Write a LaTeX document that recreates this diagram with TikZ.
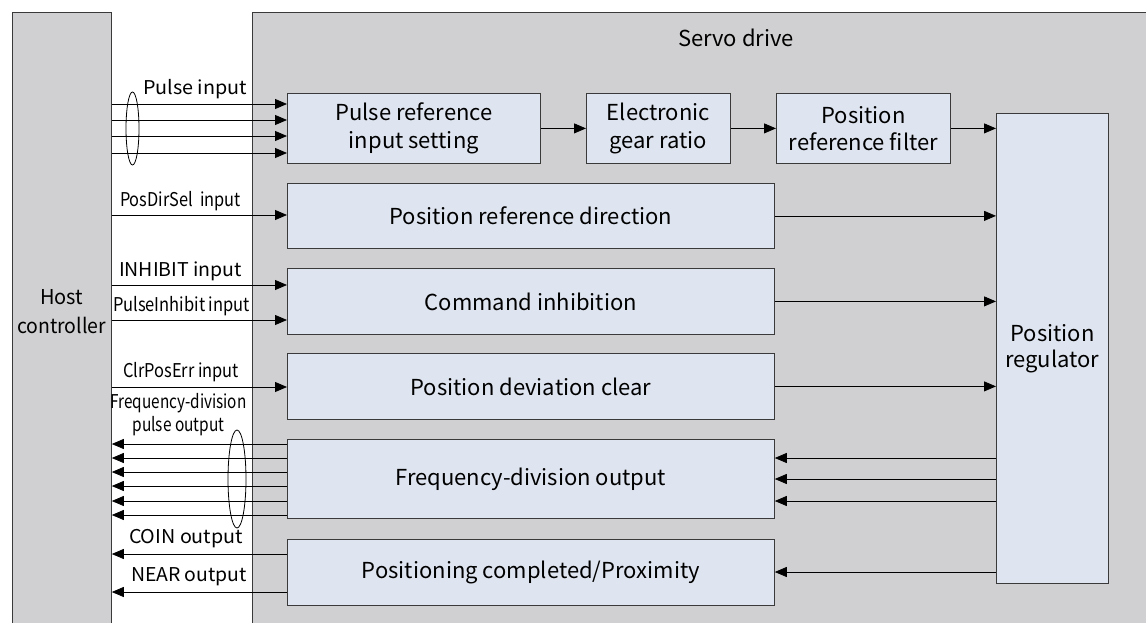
\documentclass[tikz,border=0pt]{standalone}
\usepackage{fontspec}
\setmainfont{Noto Sans CJK SC}
\usetikzlibrary{arrows.meta}
\definecolor{panel}{HTML}{D0D0D2}
\definecolor{blockfill}{HTML}{DFE5F0}
\definecolor{edge}{HTML}{3A3A3A}
% set a line of text squeezed or stretched horizontally to a given width (in pt)
\newcommand\fitwidth[2]{\setbox0\hbox{#2}\pgfmathsetmacro\fitfactor{#1/\the\wd0}\scalebox{\fitfactor}[1]{#2}}
\begin{document}
\begin{tikzpicture}[x=1pt,y=-1pt,
  block/.style={draw=edge, line width=0.8pt, fill=blockfill, inner sep=0pt,
    align=center, font=\fontsize{22}{27.5}\selectfont, anchor=north west},
  frame/.style={draw=edge, line width=0.8pt, fill=panel},
  title/.style={font=\fontsize{22}{29}\selectfont, align=center, inner sep=0pt},
  arr/.style={-{Triangle[length=12pt,width=10pt]}, line width=0.8pt},
  lbl/.style={font=\fontsize{19}{24}\selectfont, inner sep=0pt, align=center},
  bundle/.style={line width=0.8pt},
]
\clip (0,0) rectangle (1146,623);
\fill[white] (0,0) rectangle (1146,623);

% outer panels
\node[frame, inner sep=0pt, minimum width=99pt, minimum height=640pt, anchor=north west] (host) at (12,12) {};
\node[frame, inner sep=0pt, minimum width=910pt, minimum height=640pt, anchor=north west] (servo) at (252,12) {};
\node[title, font=\fontsize{20.5}{29}\selectfont] (hostname) at (61.5,312) {\fitwidth{43}{Host}\\\fitwidth{89}{controller}};
\node[title] (servoname) at (736,38) {Servo drive};

% function blocks
\node[block, minimum width=253pt, minimum height=70pt] (prs) at (287,93) {Pulse reference\\input setting};
\node[block, minimum width=144pt, minimum height=70pt] (gear) at (586,93) {Electronic\\gear ratio};
\node[block, minimum width=174pt, minimum height=70pt] (filt) at (776,93) {Position\\reference filter};
\node[block, minimum width=487pt, minimum height=65pt] (pdir) at (287,183) {Position reference direction};
\node[block, minimum width=487pt, minimum height=66pt] (cinh) at (287,268) {Command inhibition};
\node[block, minimum width=487pt, minimum height=66pt] (pdc) at (287,353) {Position deviation clear};
\node[block, minimum width=487pt, minimum height=79pt] (fdo) at (287,439) {Frequency-division output};
\node[block, minimum width=487pt, minimum height=66pt] (pcp) at (287,539) {Positioning completed/Proximity};
\node[block, minimum width=112pt, minimum height=470pt, font=\fontsize{22}{26}\selectfont] (reg) at (996,113) {Position\\regulator};

% chain along the top row
\draw[arr] (prs) -- (gear);
\draw[arr] (gear) -- (filt);
\draw[arr] (filt.east) -- (reg.west |- filt.east);

% inputs from the host
\foreach \y [count=\i] in {104,120,136,153} {
  \coordinate (pin\i) at (287,\y);
  \draw[arr] (host.east |- pin\i) -- (pin\i);
}
\draw[bundle] (132.5,128.5) ellipse [x radius=6.5, y radius=36.5];
\node[lbl] (lpulse) at (195,89) {\fitwidth{104}{Pulse input}};

\coordinate (dirin) at (287,215);
\draw[arr] (host.east |- dirin) -- (dirin);
\node[lbl] (ldir) at (180.5,201) {\fitwidth{121}{PosDirSel\ \ input}};

\coordinate (inhin) at (287,285);
\coordinate (pinhin) at (287,320);
\draw[arr] (host.east |- inhin) -- (inhin);
\draw[arr] (host.east |- pinhin) -- (pinhin);
\node[lbl] (linh) at (180.5,271) {\fitwidth{123}{INHIBIT input}};
\node[lbl] (lpinh) at (181.5,306) {\fitwidth{137}{PulseInhibit input}};

\coordinate (clrin) at (287,387);
\draw[arr] (host.east |- clrin) -- (clrin);
\node[lbl] (lclr) at (181,372) {\fitwidth{116}{ClrPosErr input}};

% outputs to the host
\foreach \y [count=\i] in {444,458,472,486,501,515} {
  \coordinate (fout\i) at (287,\y);
  \draw[arr] (fout\i) -- (host.east |- fout\i);
}
\draw[bundle] (237,479) ellipse [x radius=9, y radius=49];
\node[lbl, font=\fontsize{19}{23}\selectfont] (lfreq) at (178.5,415) {\fitwidth{136}{Frequency-division}\\\fitwidth{92}{pulse output}};

\coordinate (coinout) at (287,554);
\coordinate (nearout) at (287,592);
\draw[arr] (coinout) -- (host.east |- coinout);
\draw[arr] (nearout) -- (host.east |- nearout);
\node[lbl] (lcoin) at (186,539) {\fitwidth{114}{COIN output}};
\node[lbl] (lnear) at (189,577) {\fitwidth{116}{NEAR output}};

% links into the position regulator
\draw[arr] (pdir.east) -- (reg.west |- pdir.east);
\draw[arr] (cinh.east) -- (reg.west |- cinh.east);
\draw[arr] (pdc.east) -- (reg.west |- pdc.east);

% links out of the position regulator
\foreach \y [count=\i] in {458,479,501} {
  \coordinate (rfd\i) at (996,\y);
  \draw[arr] (rfd\i) -- (fdo.east |- rfd\i);
}
\coordinate (rpc) at (996,572);
\draw[arr] (rpc) -- (pcp.east |- rpc);
\end{tikzpicture}
\end{document}
